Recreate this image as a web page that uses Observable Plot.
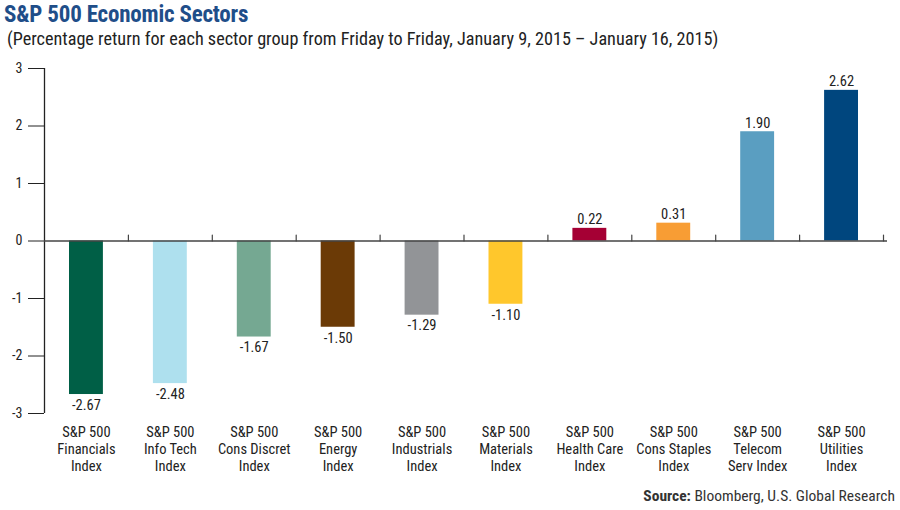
<!DOCTYPE html>
<html>
<head>
<meta charset="utf-8">
<script src="https://cdn.jsdelivr.net/npm/d3@7"></script>
<script src="https://cdn.jsdelivr.net/npm/@observablehq/plot@0.6"></script>
<style>
  html, body { margin: 0; padding: 0; background: #fff; }
  body { width: 900px; height: 510px; position: relative; overflow: hidden;
         font-family: "Liberation Sans Narrow", "Roboto Condensed", "DejaVu Sans Condensed", Roboto, sans-serif; color: #222; }
  #title { position: absolute; left: 4px; top: 1px; font-size: 23px; font-weight: bold; color: #1f4e89; letter-spacing: -0.2px; }
  #subtitle { position: absolute; left: 7px; top: 28px; font-size: 18.2px; color: #222; }
  #chart { position: absolute; left: 0; top: 55px; }
  #source { position: absolute; right: 5px; top: 487px; font-size: 15.5px; color: #333; }
</style>
</head>
<body>
<div id="title">S&amp;P 500 Economic Sectors</div>
<div id="subtitle">(Percentage return for each sector group from Friday to Friday, January 9, 2015 – January 16, 2015)</div>
<div id="chart"></div>
<div id="source"><b>Source:</b> Bloomberg, U.S. Global Research</div>
<script>
const sectors = [
  "S&P 500\nFinancials\nIndex",
  "S&P 500\nInfo Tech\nIndex",
  "S&P 500\nCons Discret\nIndex",
  "S&P 500\nEnergy\nIndex",
  "S&P 500\nIndustrials\nIndex",
  "S&P 500\nMaterials\nIndex",
  "S&P 500\nHealth Care\nIndex",
  "S&P 500\nCons Staples\nIndex",
  "S&P 500\nTelecom\nServ Index",
  "S&P 500\nUtilities\nIndex"
];
const returns = [-2.67, -2.48, -1.67, -1.50, -1.29, -1.10, 0.22, 0.31, 1.90, 2.62];
const colors = ["#005f46", "#aee0ee", "#75a892", "#6b3a06", "#929497", "#ffc72c", "#a50034", "#f89d34", "#5a9ec1", "#00467e"];
const yTicks = [-3, -2, -1, 0, 1, 2, 3];

const data = sectors.map((s, i) => ({i, label: s, value: returns[i], color: colors[i], text: returns[i].toFixed(2)}));
const bounds = d3.range(1, sectors.length + 1);
const tickShape = {draw(ctx, l) { ctx.moveTo(0, 0); ctx.lineTo(0, -l); }};

const chart = Plot.plot({
  width: 900,
  height: 420,
  marginLeft: 44,
  marginRight: 17,
  marginTop: 13,
  marginBottom: 62,
  style: {fontFamily: '"Liberation Sans Narrow", "Roboto Condensed", "DejaVu Sans Condensed", Roboto, sans-serif', fontSize: "14px", color: "#222", background: "#fff"},
  x: {domain: [0, sectors.length], axis: null},
  y: {domain: [-3, 3], ticks: yTicks, tickSize: 16, tickPadding: 6, tickFormat: d => String(d), label: null},
  marks: [
    Plot.rect(data, {x1: d => d.i, x2: d => d.i + 1, y1: 0, y2: "value", fill: "color", insetLeft: 25, insetRight: 25}),
    Plot.ruleX([0], {y1: yTicks[0], y2: yTicks[yTicks.length - 1], stroke: "#222", strokeWidth: 1.3}),
    Plot.ruleY([0], {stroke: "#444", strokeWidth: 1.3, insetRight: -4}),
    Plot.vector(bounds, {x: d => d, y: () => 0, length: 6, rotate: 0, anchor: "start", shape: tickShape, stroke: "#444", strokeWidth: 1.2}),
    Plot.text(data.filter(d => d.value < 0), {x: d => d.i + 0.5, y: "value", text: "text", fontSize: 14.5, fill: "#222", lineAnchor: "top", dy: 5}),
    Plot.text(data.filter(d => d.value >= 0), {x: d => d.i + 0.5, y: "value", text: "text", fontSize: 14.5, fill: "#222", lineAnchor: "bottom", dy: -4}),
    Plot.text(data, {x: d => d.i + 0.5, text: "label", frameAnchor: "bottom", lineAnchor: "top", dy: 11, lineHeight: 1.18, fontSize: 14.5, fill: "#222"})
  ]
});
document.getElementById("chart").appendChild(chart);
</script>
</body>
</html>
